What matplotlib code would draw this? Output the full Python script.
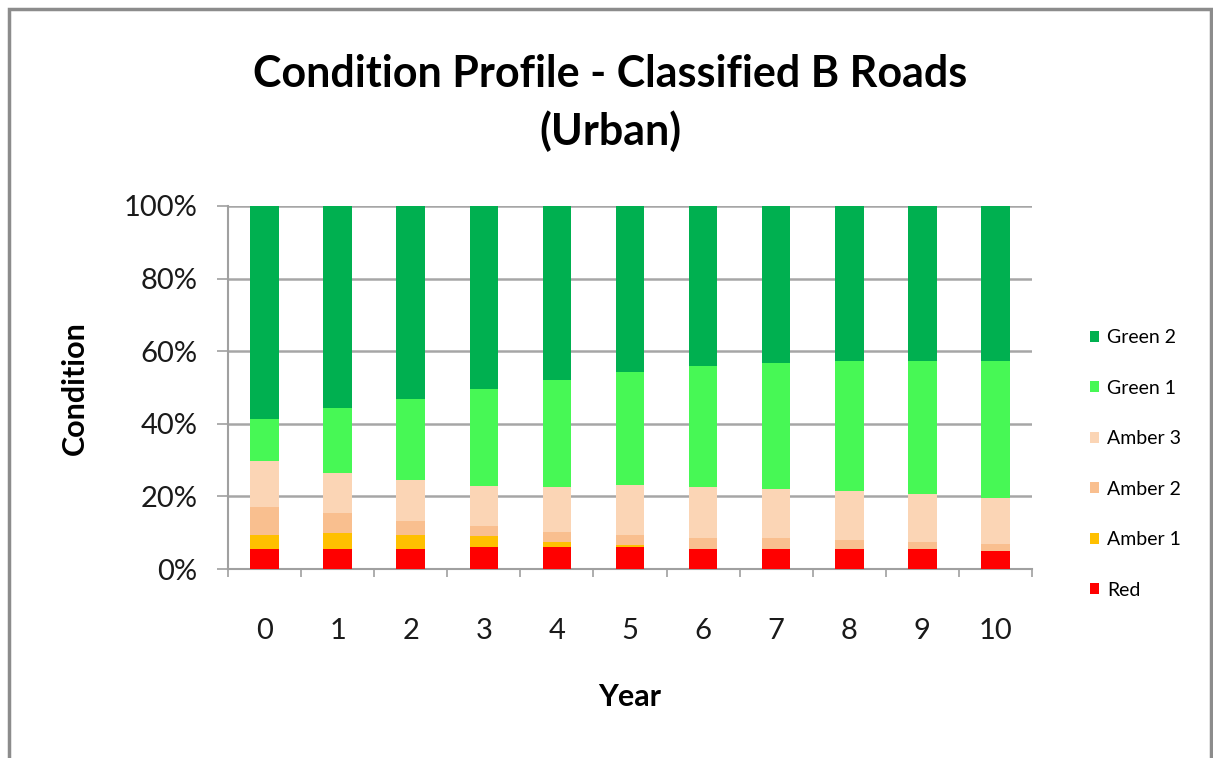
import matplotlib
matplotlib.use("Agg")
import matplotlib.pyplot as plt
from matplotlib.patches import Rectangle
from matplotlib.ticker import FixedLocator, PercentFormatter
import numpy as np

years = ["0", "1", "2", "3", "4", "5", "6", "7", "8", "9", "10"]
red = [5.5, 5.5, 5.5, 6.0, 6.0, 6.0, 5.5, 5.5, 5.5, 5.5, 5.0]
amber1 = [3.8, 4.5, 3.9, 3.0, 1.5, 0.5, 0.0, 0.0, 0.0, 0.0, 0.0]
amber2 = [7.7, 5.3, 3.9, 2.8, 2.8, 2.8, 3.0, 3.0, 2.4, 1.9, 1.9]
amber3 = [12.8, 11.2, 11.2, 11.2, 12.2, 13.9, 14.2, 13.6, 13.7, 13.2, 12.7]
green1 = [11.5, 17.8, 22.2, 26.5, 29.5, 31.2, 33.1, 34.7, 35.8, 36.8, 37.8]
green2 = [58.7, 55.7, 53.3, 50.5, 48.0, 45.6, 44.2, 43.2, 42.6, 42.6, 42.6]

series = [("Red", red, "#FF0000"),
          ("Amber 1", amber1, "#FFC000"),
          ("Amber 2", amber2, "#F9BF8F"),
          ("Amber 3", amber3, "#FBD5B5"),
          ("Green 1", green1, "#47F855"),
          ("Green 2", green2, "#00B050")]

plt.rcParams['font.family'] = ['Lato', 'DejaVu Sans']

W, H = 1213, 758
fig = plt.figure(figsize=(W / 100, H / 100), dpi=100)
fig.patch.set_facecolor("white")

# outer frame
fig.patches.append(Rectangle((9 / W, -0.05), (1211 - 9) / W, (758 - 9) / H + 0.05,
                             transform=fig.transFigure, fill=False,
                             edgecolor="#8C8C8C", linewidth=2.5))

ax = fig.add_axes([228 / W, 1 - 569 / H, (1032 - 228) / W, (569 - 206) / H])

x = np.arange(len(years))
bottom = np.zeros(len(years))
handles = []
for name, vals, col in series:
    v = np.array(vals)
    b = ax.bar(x, v, width=0.39, bottom=bottom, color=col, label=name,
               edgecolor="none", zorder=3)
    handles.append(b)
    bottom += v

ax.set_xlim(-0.5, len(years) - 0.5)
ax.set_ylim(0, 100)
ax.set_yticks(np.arange(0, 101, 20))
ax.yaxis.set_major_formatter(PercentFormatter(decimals=0))
ax.yaxis.grid(True, color="#A6A6A6", linewidth=1.8, zorder=0)
ax.set_axisbelow(True)

ax.set_xticks(x)
ax.set_xticklabels(years)
ax.xaxis.set_minor_locator(FixedLocator(np.arange(-0.5, len(years), 1.0)))
ax.tick_params(axis="x", which="major", length=0, pad=35, labelsize=21, labelcolor="#1a1a1a")
ax.tick_params(axis="x", which="minor", length=6, width=1.2, color="#A0A0A0")
ax.tick_params(axis="y", which="major", length=8, width=1.2, color="#A0A0A0", pad=14,
               labelsize=21, labelcolor="#1a1a1a")

for s in ["top", "right"]:
    ax.spines[s].set_visible(False)
for s in ["left", "bottom"]:
    ax.spines[s].set_color("#A0A0A0")
    ax.spines[s].set_linewidth(1.5)

fig.text(0.503, 1 - 103 / H, "Condition Profile - Classified B Roads\n(Urban)",
         ha="center", va="center", fontsize=31, fontweight="bold",
         linespacing=1.45, color="black")
fig.text(75 / W, 1 - 388 / H, "Condition", rotation=90, ha="center", va="center",
         fontsize=22, fontweight="bold")
fig.text(630 / W, 1 - 697 / H, "Year", ha="center", va="center",
         fontsize=22, fontweight="bold")

leg = ax.legend(handles=handles[::-1], loc="center left",
                bbox_to_anchor=(1072 / W, 1 - 464 / H), bbox_transform=fig.transFigure,
                frameon=False, fontsize=14, labelspacing=1.72,
                handlelength=0.5, handleheight=0.5, handletextpad=0.4)

fig.savefig("out.png", dpi=100)
